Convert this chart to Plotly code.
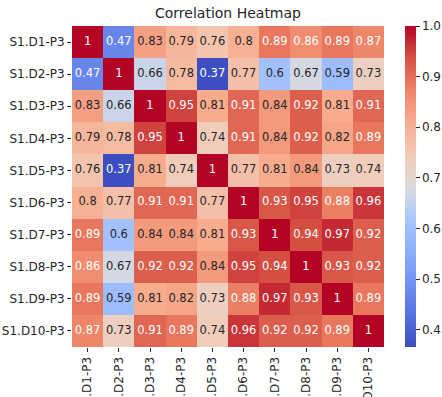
import plotly.graph_objects as go

labels = [f"S1.D{i}-P3" for i in range(1, 11)]
corr = [
    [1, 0.47, 0.83, 0.79, 0.76, 0.8, 0.89, 0.86, 0.89, 0.87],
    [0.47, 1, 0.66, 0.78, 0.37, 0.77, 0.6, 0.67, 0.59, 0.73],
    [0.83, 0.66, 1, 0.95, 0.81, 0.91, 0.84, 0.92, 0.81, 0.91],
    [0.79, 0.78, 0.95, 1, 0.74, 0.91, 0.84, 0.92, 0.82, 0.89],
    [0.76, 0.37, 0.81, 0.74, 1, 0.77, 0.81, 0.84, 0.73, 0.74],
    [0.8, 0.77, 0.91, 0.91, 0.77, 1, 0.93, 0.95, 0.88, 0.96],
    [0.89, 0.6, 0.84, 0.84, 0.81, 0.93, 1, 0.94, 0.97, 0.92],
    [0.86, 0.67, 0.92, 0.92, 0.84, 0.95, 0.94, 1, 0.93, 0.92],
    [0.89, 0.59, 0.81, 0.82, 0.73, 0.88, 0.97, 0.93, 1, 0.89],
    [0.87, 0.73, 0.91, 0.89, 0.74, 0.96, 0.92, 0.92, 0.89, 1],
]
cbar_ticks = [0.4, 0.5, 0.6, 0.7, 0.8, 0.9, 1.0]

coolwarm = [
    [0.0, "#3b4cc0"], [0.1, "#5572df"], [0.2, "#6f92f3"], [0.3, "#8db0fe"],
    [0.4, "#aac7fd"], [0.5, "#dddcdc"], [0.6, "#f2cbb7"], [0.7, "#f7ac8e"],
    [0.8, "#ee8468"], [0.9, "#d65244"], [1.0, "#b40426"],
]
zmin, zmax = 0.366, 1.0
font = "DejaVu Sans"
tc = "#262626"

fig = go.Figure()
fig.add_trace(go.Heatmap(
    z=corr, x=labels, y=labels, colorscale=coolwarm, zmin=zmin, zmax=zmax,
    xgap=0, ygap=0, hoverinfo="skip",
    colorbar=dict(
        x=1.067, xanchor="left", xref="paper", xpad=0, ypad=0,
        y=0.5, yanchor="middle", len=1.0,
        thickness=11, outlinewidth=0, tickvals=cbar_ticks,
        ticktext=[f"{t:.1f}" for t in cbar_ticks], ticks="outside", ticklen=4,
        tickcolor=tc, tickfont=dict(family=font, size=12, color=tc),
    ),
))

xs, ys, txt, cols = [], [], [], []
for i, row in enumerate(corr):
    for j, v in enumerate(row):
        xs.append(labels[j]); ys.append(labels[i])
        txt.append(format(v, ".2g"))
        cols.append("white" if (v >= 0.855 or v <= 0.5) else tc)
fig.add_trace(go.Scatter(
    x=xs, y=ys, mode="text", text=txt, hoverinfo="skip", showlegend=False,
    textfont=dict(family=font, size=11.5, color=cols),
))

fig.update_layout(
    width=442, height=397,
    margin=dict(l=72, r=58, t=26, b=50, autoexpand=False),
    paper_bgcolor="white", plot_bgcolor="white",
    title=dict(text="Correlation Heatmap", x=0.5, xref="paper", xanchor="center",
               y=1 - 13 / 397, yanchor="middle", yref="container",
               font=dict(family=font, size=14, color=tc)),
    xaxis=dict(tickangle=-90, ticks="outside", ticklen=4, tickcolor=tc,
               tickfont=dict(family=font, size=12, color=tc), showgrid=False,
               zeroline=False, automargin=False, showline=False),
    yaxis=dict(autorange="reversed", ticks="outside", ticklen=4, tickcolor=tc,
               tickfont=dict(family=font, size=12, color=tc), showgrid=False,
               zeroline=False, automargin=False, showline=False),
)

fig.write_html("out.html")
